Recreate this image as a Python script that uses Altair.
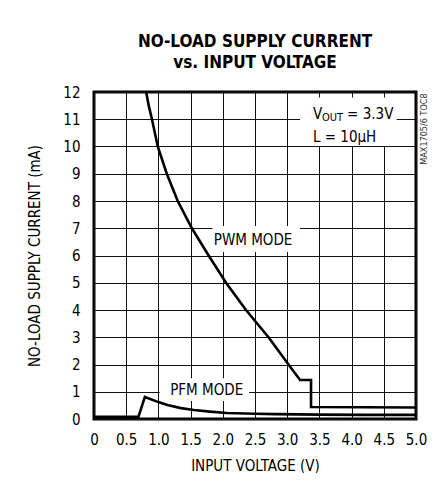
import altair as alt
import pandas as pd

FONT = "Liberation Sans Narrow, DejaVu Sans Condensed, Roboto, sans-serif"

pwm_x = [0.81, 0.85, 0.90, 0.99, 1.13, 1.30, 1.52, 1.78, 2.05, 2.36, 2.71, 3.02, 3.20, 3.37, 3.37, 5.0]
pwm_y = [12.0, 11.5, 11.0, 10.0, 9.0, 8.0, 7.0, 6.0, 5.0, 4.0, 3.0, 2.0, 1.43, 1.43, 0.44, 0.42]

pfm_x = [0.0, 0.69, 0.79, 1.0, 1.14, 1.35, 1.55, 1.8, 2.06, 2.5, 2.82, 3.5, 4.2, 5.0]
pfm_y = [0.08, 0.08, 0.81, 0.62, 0.51, 0.40, 0.33, 0.27, 0.22, 0.19, 0.18, 0.16, 0.15, 0.15]

x_ticks = [0, 0.5, 1.0, 1.5, 2.0, 2.5, 3.0, 3.5, 4.0, 4.5, 5.0]
y_ticks = list(range(0, 13))

box_x = [1.84, 3.20, 1.02]
box_x2 = [3.20, 4.70, 2.41]
box_y = [7.08, 11.8, 1.50]
box_y2 = [6.13, 10.02, 0.66]

lbl_text = ["PWM MODE", "PFM MODE"]
lbl_x = [2.47, 1.75]
lbl_y = [6.57, 1.06]

vout_t = ["V", "OUT", "= 3.3V", "L = 10µH"]
vout_x = [3.40, 3.54, 3.93, 3.40]
vout_y = [11.19, 11.05, 11.19, 10.35]
vout_s = [15, 11, 15, 15]

rows = []
for i, (a, b) in enumerate(zip(pwm_x, pwm_y)):
    rows.append({"x": a, "y": b, "s": "PWM", "o": i})
for i, (a, b) in enumerate(zip(pfm_x, pfm_y)):
    rows.append({"x": a, "y": b, "s": "PFM", "o": i})
df = pd.DataFrame(rows)

xs = alt.Scale(domain=[0, 5], nice=False)
ys = alt.Scale(domain=[0, 12], nice=False)

X_AX = alt.Axis(values=x_ticks, title="INPUT VOLTAGE (V)",
                labelExpr="datum.value == 0 ? '0' : format(datum.value, '.1f')",
                grid=True, ticks=False, domain=False, labelPadding=13,
                labelOverlap=False, labelFlush=False, titlePadding=11)
Y_AX = alt.Axis(values=y_ticks, title="NO-LOAD SUPPLY CURRENT (mA)",
                grid=True, ticks=False, domain=False, labelPadding=14,
                labelOverlap=False, labelFlush=False, titlePadding=20)

xa = lambda f: alt.X(f, scale=xs, axis=X_AX)
ya = lambda f: alt.Y(f, scale=ys, axis=Y_AX)

lines = alt.Chart(df).mark_line(color="black", strokeWidth=2.6, strokeJoin="miter").encode(
    x=xa("x:Q"), y=ya("y:Q"), detail="s:N", order="o:Q")

boxes = alt.Chart(pd.DataFrame({"x": box_x, "x2": box_x2, "y": box_y, "y2": box_y2})).mark_rect(
    color="white").encode(x=xa("x:Q"), x2="x2:Q", y=ya("y:Q"), y2="y2:Q")

lab_center = alt.Chart(pd.DataFrame({"t": lbl_text, "x": lbl_x, "y": lbl_y})).mark_text(
    font=FONT, fontSize=15, color="black", baseline="middle", align="center").encode(
    x=xa("x:Q"), y=ya("y:Q"), text="t:N")

lab_left = alt.Chart(pd.DataFrame({"t": vout_t, "x": vout_x, "y": vout_y, "s": vout_s})).mark_text(
    font=FONT, color="black", baseline="middle", align="left").encode(
    x=xa("x:Q"), y=ya("y:Q"), text="t:N",
    size=alt.Size("s:Q", scale=None, legend=None))

side = alt.Chart(pd.DataFrame({"t": ["MAX1705/6 TOC8"], "x": [5.124], "y": [10.64]})).mark_text(
    font=FONT, fontSize=9, color="#333", angle=270, baseline="middle", align="center").encode(
    x=xa("x:Q"), y=ya("y:Q"), text="t:N")

chart = alt.layer(lines, boxes, lab_center, lab_left, side).properties(
    width=322, height=327,
    title=alt.TitleParams(text=["NO-LOAD SUPPLY CURRENT", "vs. INPUT VOLTAGE"],
                          font=FONT, fontSize=17, fontWeight="bold", lineHeight=21,
                          anchor="middle", offset=13, color="black"),
    autosize=alt.AutoSizeParams(type="none"),
    padding={"left": 86, "top": 84, "right": 14, "bottom": 54},
).configure_view(stroke="black", strokeWidth=3).configure_axis(
    gridColor="#111", gridOpacity=1, gridWidth=1,
    labelFont=FONT, labelFontSize=15, labelColor="black",
    titleFont=FONT, titleFontSize=15, titleFontWeight="normal", titleColor="black",
)

chart.save("out.html", embed_options={"renderer": "svg", "actions": False})
